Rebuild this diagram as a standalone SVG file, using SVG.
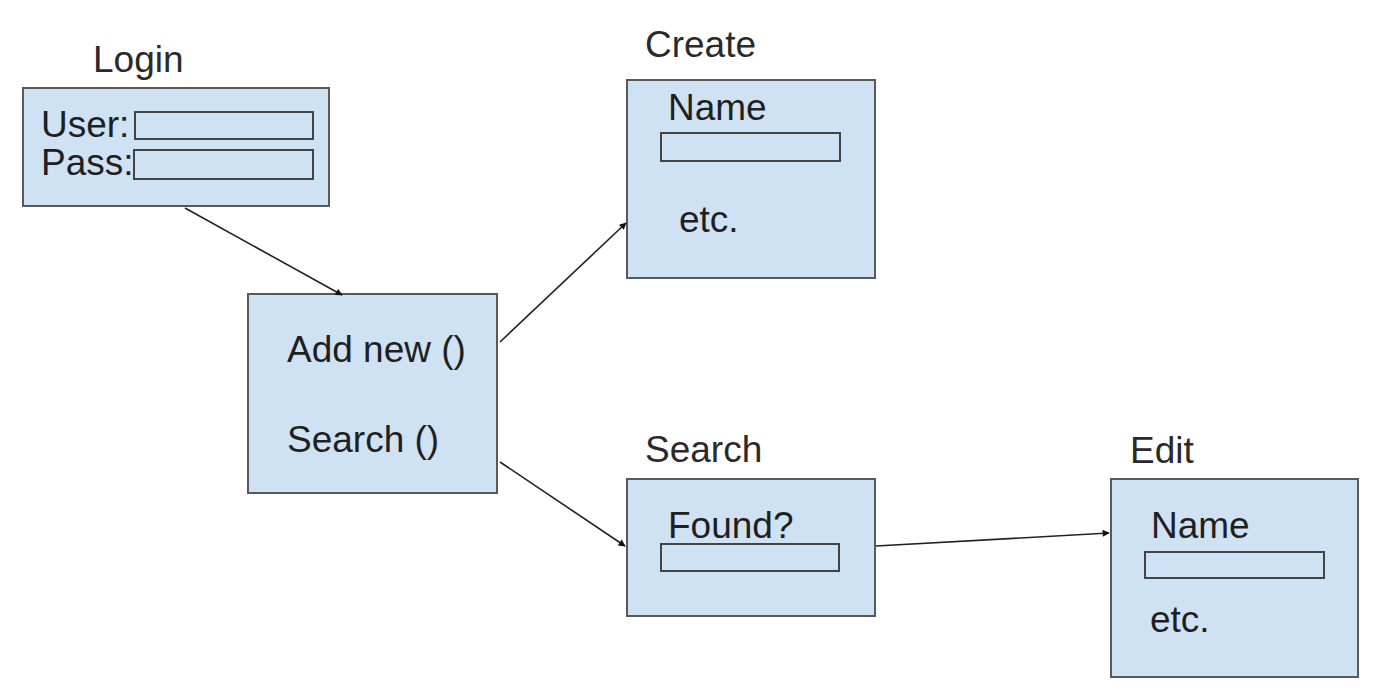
<svg xmlns="http://www.w3.org/2000/svg" width="1382" height="696" viewBox="0 0 1382 696">
<style>
.box{fill:#cfe2f3;stroke:#595959;stroke-width:2}
.fld{fill:#cfe2f3;stroke:#434343;stroke-width:2}
text{font-family:"Liberation Sans",Arial,sans-serif;font-size:37px;fill:#1f1f1f}
.lbl{fill:#2a2a2a}
.con{fill:none;stroke:#222;stroke-width:1.6}
</style>
<defs>
<marker id="ah" viewBox="0 0 10 10" refX="9" refY="5" markerWidth="9" markerHeight="7" markerUnits="userSpaceOnUse" orient="auto">
<path d="M0,0 L10,5 L0,10 z" fill="#111"/>
</marker>
</defs>
<rect width="1382" height="696" fill="#fff"/>
<g id="login">
<text class="lbl" x="93" y="72">Login</text>
<rect class="box" x="23" y="88" width="306" height="118"/>
<text x="41" y="137">User:</text>
<rect class="fld" x="135" y="112" width="178" height="27"/>
<text x="41" y="175">Pass:</text>
<rect class="fld" x="134" y="150" width="179" height="29"/>
</g>
<g id="menu">
<rect class="box" x="248" y="294" width="249" height="199"/>
<text x="287" y="362">Add new ()</text>
<text x="287" y="452">Search ()</text>
</g>
<g id="create">
<text class="lbl" x="645" y="57">Create</text>
<rect class="box" x="627" y="80" width="248" height="198"/>
<text x="668" y="120">Name</text>
<rect class="fld" x="661" y="133" width="179" height="28"/>
<text x="679" y="232">etc.</text>
</g>
<g id="search">
<text class="lbl" x="645" y="462">Search</text>
<rect class="box" x="627" y="479" width="248" height="137"/>
<text x="668" y="538">Found?</text>
<rect class="fld" x="661" y="544" width="178" height="27"/>
</g>
<g id="edit">
<text class="lbl" x="1130" y="463">Edit</text>
<rect class="box" x="1111" y="479" width="247" height="198"/>
<text x="1151" y="538">Name</text>
<rect class="fld" x="1145" y="552" width="179" height="26"/>
<text x="1150" y="632">etc.</text>
</g>
<g id="connectors">
<line class="con" x1="185" y1="208" x2="342" y2="295" marker-end="url(#ah)"/>
<line class="con" x1="500" y1="342" x2="626" y2="223" marker-end="url(#ah)"/>
<line class="con" x1="500" y1="462" x2="625" y2="546" marker-end="url(#ah)"/>
<line class="con" x1="876" y1="546" x2="1109" y2="533" marker-end="url(#ah)"/>
</g>
</svg>
